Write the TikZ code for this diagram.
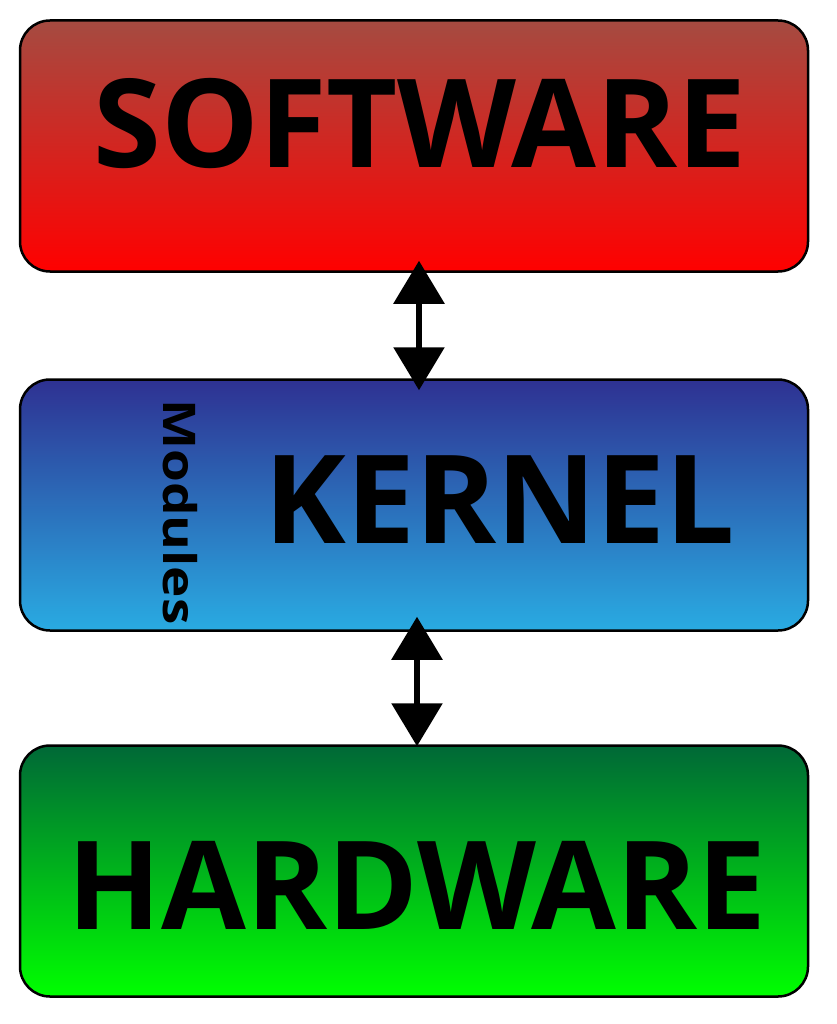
\documentclass[tikz,border=0pt]{standalone}
\usepackage{fontspec}
\setmainfont{Open Sans}
\usetikzlibrary{arrows.meta}
\definecolor{softtop}{RGB}{165,75,65}
\definecolor{softbot}{RGB}{255,0,0}
\definecolor{kerntop}{RGB}{46,49,146}
\definecolor{kernbot}{RGB}{41,171,226}
\definecolor{hardtop}{RGB}{0,104,55}
\definecolor{hardbot}{RGB}{0,255,0}
\tikzset{
  layer/.style={draw,line width=2.5pt,rounded corners=30pt,
    minimum width=788pt,minimum height=251pt,inner sep=0pt},
  big/.style={font=\fontsize{123}{123}\selectfont\bfseries},
  link/.style={line width=6pt,{Triangle[width=50pt,length=43pt]}-{Triangle[width=50pt,length=43pt]}}
}
\begin{document}
\begin{tikzpicture}[x=1pt,y=1pt]
    \useasboundingbox (0,0) rectangle (836,-1024);
    \node[layer,top color=softtop,bottom color=softbot] (soft) at (414,-146) {};
    \node[layer,top color=kerntop,bottom color=kernbot] (kern) at (414,-505) {};
    \node[layer,top color=hardtop,bottom color=hardbot] (hard) at (414,-871) {};
    \node[big] (softtext) at (420,-124) {SOFTWARE};
    \node[big] (kerntext) at (500,-500) {KERNEL};
    \node[big] (hardtext) at (417,-885) {HARDWARE};
    \node[font=\fontsize{45}{45}\selectfont\bfseries,rotate=-90,xscale=1.18,inner sep=0pt] (mods) at (180,-512) {Modules};
    \draw[link] ([xshift=5pt,yshift=12pt]soft.south) -- ([xshift=5pt,yshift=-12pt]kern.north);
    \draw[link] ([xshift=3pt,yshift=15pt]kern.south) -- ([xshift=3pt,yshift=-2pt]hard.north);
\end{tikzpicture}
\end{document}
